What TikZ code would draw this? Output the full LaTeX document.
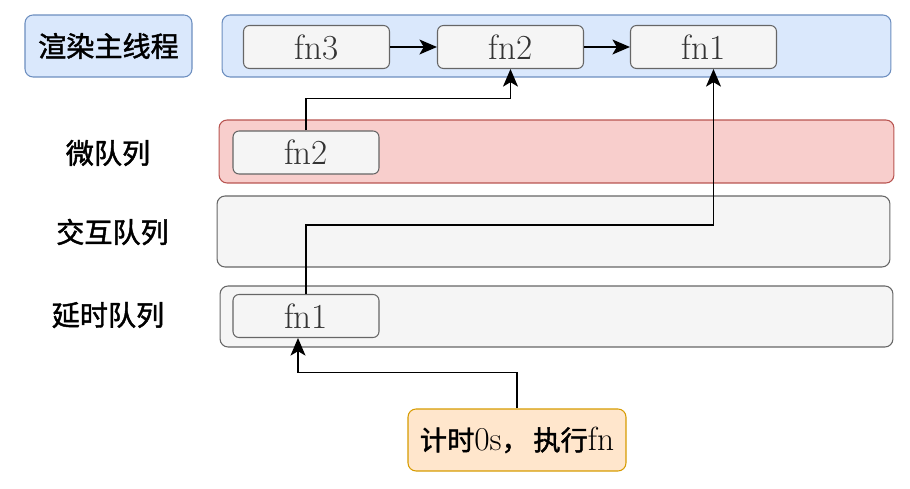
\documentclass[tikz,border=0pt]{standalone}
\usepackage{fontspec}
\newfontfamily\cjk[FakeBold=1.6]{Noto Sans CJK SC}
\usetikzlibrary{arrows.meta}
\definecolor{bluefill}{HTML}{DAE8FC}
\definecolor{blueline}{HTML}{6C8EBF}
\definecolor{redfill}{HTML}{F8CECC}
\definecolor{redline}{HTML}{B85450}
\definecolor{grayfill}{HTML}{F5F5F5}
\definecolor{grayline}{HTML}{666666}
\definecolor{orangefill}{HTML}{FFE6CC}
\definecolor{orangeline}{HTML}{D79B00}
\tikzset{
	lane/.style={draw, line width=0.6pt, rounded corners=0.16cm, minimum width=13.46cm},
	fnbox/.style={draw=grayline, fill=grayfill, line width=0.6pt, rounded corners=0.12cm,
		minimum width=2.92cm, minimum height=0.86cm, inner sep=0pt, font=\fontsize{20}{24}\selectfont, text=black!80},
	lbl/.style={font=\cjk\fontsize{16}{19}\selectfont, inner sep=0pt},
	flow/.style={-{Stealth[length=10pt,width=8.5pt,inset=2.5pt]}, line width=0.8pt}
}
\begin{document}
\begin{tikzpicture}[x=0.02cm, y=-0.02cm]
	\useasboundingbox (0,0) rectangle (910,489);
	\node[draw=blueline, fill=bluefill, line width=0.6pt, rounded corners=0.16cm, minimum width=3.34cm, minimum height=1.24cm, lbl] (lblmain) at (108.5,46) {渲染主线程};
	\node[lane, draw=blueline, fill=bluefill, minimum width=13.38cm, minimum height=1.24cm] (mainlane) at (556.5,46) {};
	\node[lane, draw=redline, fill=redfill, minimum width=13.5cm, minimum height=1.26cm] (microlane) at (556.5,151.5) {};
	\node[lane, draw=grayline, fill=grayfill, minimum width=13.46cm, minimum height=1.42cm] (interlane) at (553.5,231.5) {};
	\node[lane, draw=grayline, fill=grayfill, minimum width=13.46cm, minimum height=1.22cm] (delaylane) at (556.5,316.5) {};
	\node[lbl] (lblmicro) at (108,153) {微队列};
	\node[lbl] (lblinter) at (112.5,232) {交互队列};
	\node[lbl] (lbldelay) at (108,315) {延时队列};
	\node[fnbox] (fn3) at (316.5,47) {fn3};
	\node[fnbox] (fn2) at (510.5,47) {fn2};
	\node[fnbox] (fn1) at (703.5,47) {fn1};
	\node[fnbox] (mfn2) at (306,152.5) {fn2};
	\node[fnbox] (dfn1) at (306,316) {fn1};
	\node[draw=orangeline, fill=orangefill, line width=0.6pt, rounded corners=0.16cm, minimum width=4.36cm, minimum height=1.24cm, inner sep=0pt, font=\fontsize{19}{22}\selectfont] (timer) at (517,440) {{\cjk\fontsize{15.5}{18}\selectfont 计时}0s{\cjk\fontsize{15.5}{18}\selectfont ，\,执行}fn};
	\draw[flow] (fn3) -- (fn2);
	\draw[flow] (fn2) -- (fn1);
	\draw[flow] (mfn2.north) -- ++(0,-32) -| (fn2.south);
	\draw[flow] (dfn1.north) -- ++(0,-69) -| ([xshift=0.2cm]fn1.south);
	\draw[flow] (timer.north) -- ++(0,-36) -| ([xshift=-0.16cm]dfn1.south);
\end{tikzpicture}
\end{document}
